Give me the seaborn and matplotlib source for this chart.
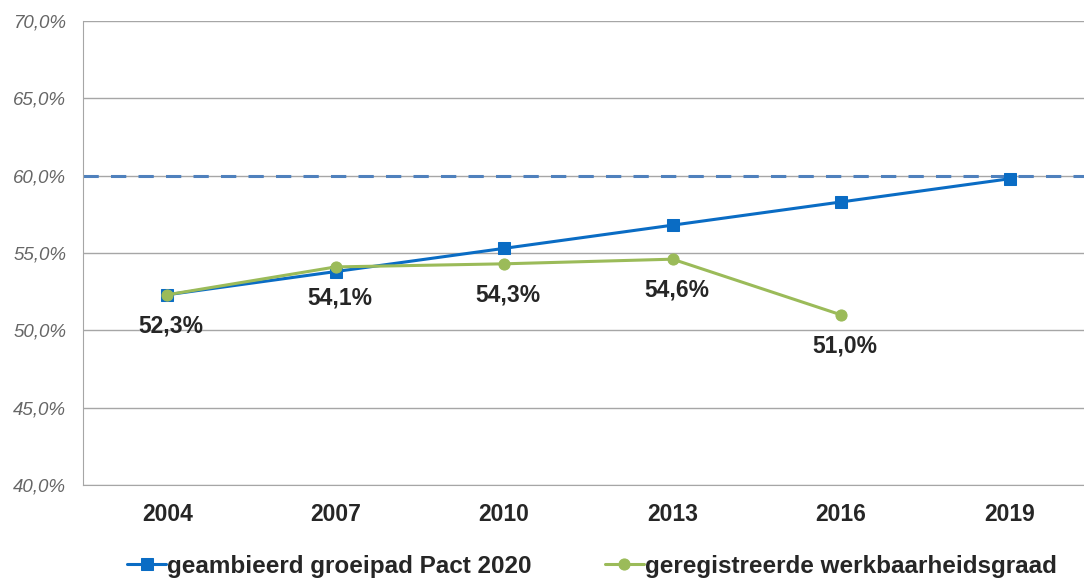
import numpy as np
import pandas as pd
import matplotlib
matplotlib.use("Agg")
import matplotlib.pyplot as plt
import seaborn as sns

years = ["2004", "2007", "2010", "2013", "2016", "2019"]
groeipad = [52.3, 53.8, 55.3, 56.8, 58.3, 59.8]
werkbaarheid = [52.3, 54.1, 54.3, 54.6, 51.0, np.nan]
doel = 60.0
yticks = [40, 45, 50, 55, 60, 65, 70]

name_blue = "geambieerd groeipad Pact 2020"
name_green = "geregistreerde werkbaarheidsgraad"

sns.set_style("white")
plt.rcParams['font.family'] = ['Liberation Sans', 'DejaVu Sans']

blue = "#0a6cc4"
green = "#9bbb59"

fig = plt.figure(figsize=(10.84, 5.79), dpi=100)
ax = fig.add_axes([0.0766, 0.1624, 0.9324, 0.8013])

df = pd.DataFrame({"pos": np.arange(len(years)), "year": years,
                   "blue": groeipad, "green": werkbaarheid})

for y in yticks:
    ax.axhline(y, color="#a6a6a6", lw=1.0, zorder=0)
ax.axhline(doel, color="#4f81bd", lw=2.2, ls=(0, (5, 4)), zorder=1)

sns.lineplot(data=df, x="pos", y="blue", ax=ax, color=blue, lw=2.2,
             marker="s", markersize=9, markeredgecolor=blue, label=name_blue, zorder=3)
sns.lineplot(data=df.dropna(), x="pos", y="green", ax=ax, color=green, lw=2.2,
             marker="o", markersize=8, markeredgecolor=green, label=name_green, zorder=4)

for i, v in enumerate(werkbaarheid):
    if np.isnan(v):
        continue
    ax.annotate(f"{v:.1f}%".replace(".", ","), (i, v), xytext=(4, -31),
                textcoords="offset pixels",
                ha="center", va="center", fontsize=16.5, fontweight="bold", color="#262626")

ax.set_xlim(-0.5, 5.5)
ax.set_ylim(40, 70)
ax.set_yticks(yticks)
ax.set_yticklabels([f"{t:.1f}%".replace(".", ",") for t in yticks],
                   fontstyle="italic", fontsize=13.5, color="#666666")
ax.set_xticks(df["pos"])
ax.set_xticklabels(years, fontsize=16.5, fontweight="bold", color="#262626")
ax.tick_params(axis="y", length=5, color="#a6a6a6", pad=7)
ax.tick_params(axis="x", length=0, pad=13)
ax.set_xlabel("")
ax.set_ylabel("")
for s in ["top", "right"]:
    ax.spines[s].set_visible(False)
ax.spines["left"].set_color("#a6a6a6")
ax.spines["bottom"].set_color("#a6a6a6")

ax.get_legend().remove()
h, l = ax.get_legend_handles_labels()
fig.legend(h, l, loc="lower center", bbox_to_anchor=(0.546, -0.036), ncol=2,
           frameon=False, handlelength=1.6, handletextpad=0.05, columnspacing=3.0,
           prop={"size": 17.5, "weight": "bold"})

fig.savefig("out.png", dpi=100, facecolor="white")
